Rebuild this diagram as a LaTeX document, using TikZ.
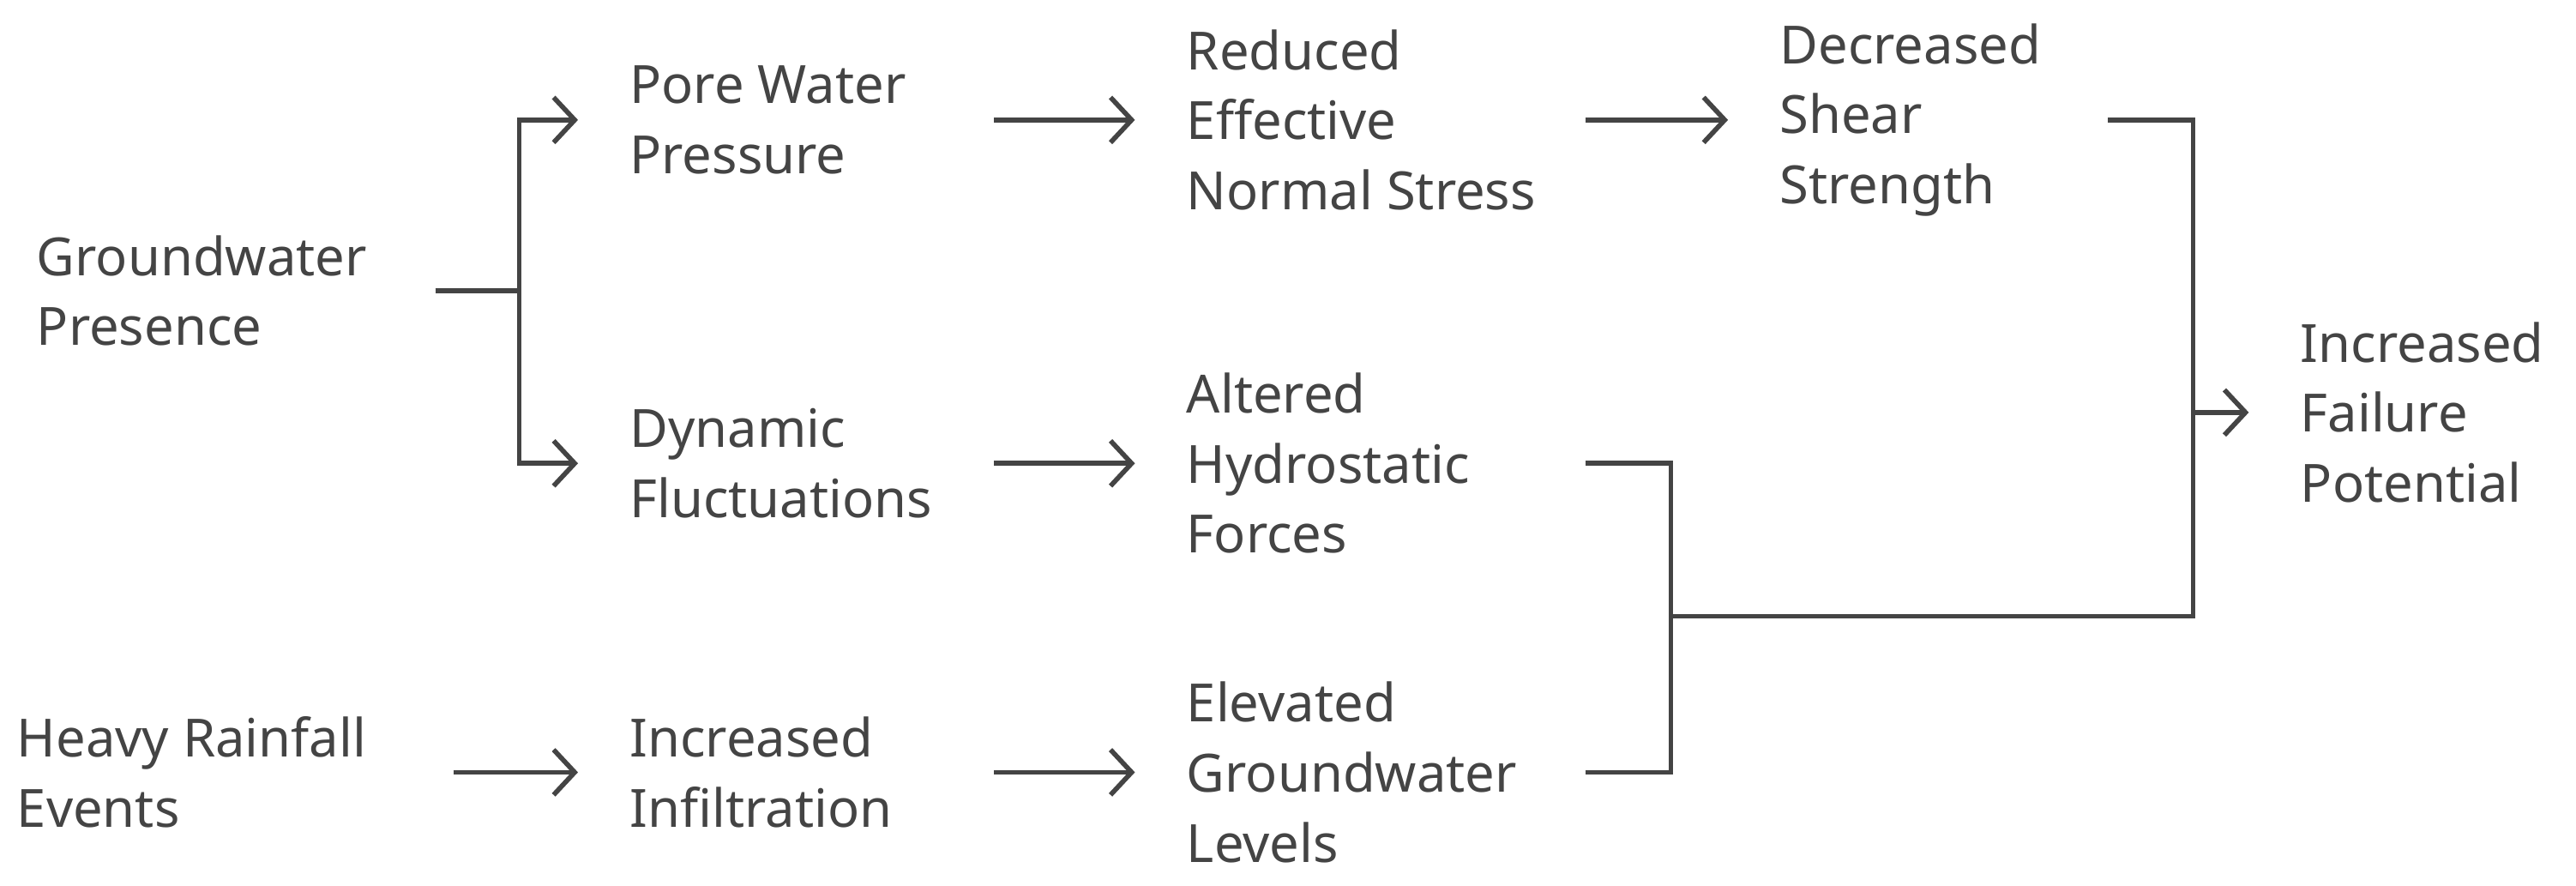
\documentclass[tikz,border=0pt]{standalone}
\usepackage{fontspec}
\setmainfont{Noto Sans}
\usetikzlibrary{arrows.meta}
\definecolor{ink}{HTML}{444444}
\begin{document}
\begin{tikzpicture}[x=0.01916cm,y=-0.01916cm,
  t/.style={anchor=west,inner sep=0,align=left,text=ink,font=\fontsize{17.5}{23.2}\selectfont},
  b/.style={t,font=\fontsize{17.5}{23.2}\selectfont\bfseries},
  ln/.style={draw=ink,line width=1.6pt},
  ar/.style={ln,-{Straight Barb[length=7pt,width=15pt,line width=1.6pt]},shorten >=17}]
\useasboundingbox (0,0) rectangle (1568,539);
\node[b] (gp) at (22,177) {Groundwater\\Presence};
\node[b] (hr) at (10,470) {Heavy Rainfall\\Events};
\node[t] (pwp) at (383,73) {Pore Water\\Pressure};
\node[t] (df) at (383,282) {Dynamic\\Fluctuations};
\node[t] (ii) at (383,470) {Increased\\Infiltration};
\node[t] (rens) at (722,73) {Reduced\\Effective\\Normal Stress};
\node[t] (ahf) at (722,282) {Altered\\Hydrostatic\\Forces};
\node[t] (egl) at (722,470) {Elevated\\Groundwater\\Levels};
\node[t] (dss) at (1083,73) {Decreased\\Shear\\Strength};
\node[t] (ifp) at (1400,251) {Increased\\Failure\\Potential};
\coordinate (s1) at (265,177); \coordinate (j1) at (316,177);
\coordinate (s2) at (605,73); \coordinate (s3) at (965,73);
\coordinate (s4) at (605,282); \coordinate (s5) at (276,470);
\coordinate (s6) at (605,470); \coordinate (s7) at (1283,73);
\coordinate (s8) at (965,282); \coordinate (s9) at (965,470);
\coordinate (j2) at (1017,375); \coordinate (j3) at (1335,251);
\draw[ln] (s1) -- (j1);
\draw[ar] (j1) |- (pwp.west);
\draw[ar] (j1) |- (df.west);
\draw[ar] (s2) -- (rens.west);
\draw[ar] (s3) -- (dss.west);
\draw[ar] (s4) -- (ahf.west);
\draw[ar] (s5) -- (ii.west);
\draw[ar] (s6) -- (egl.west);
\draw[ln] (s7) -| (1335,375) -- (j2);
\draw[ln] (s8) -| (j2);
\draw[ln] (s9) -| (j2);
\draw[ar] (j3) -- (ifp.west);
\end{tikzpicture}
\end{document}
